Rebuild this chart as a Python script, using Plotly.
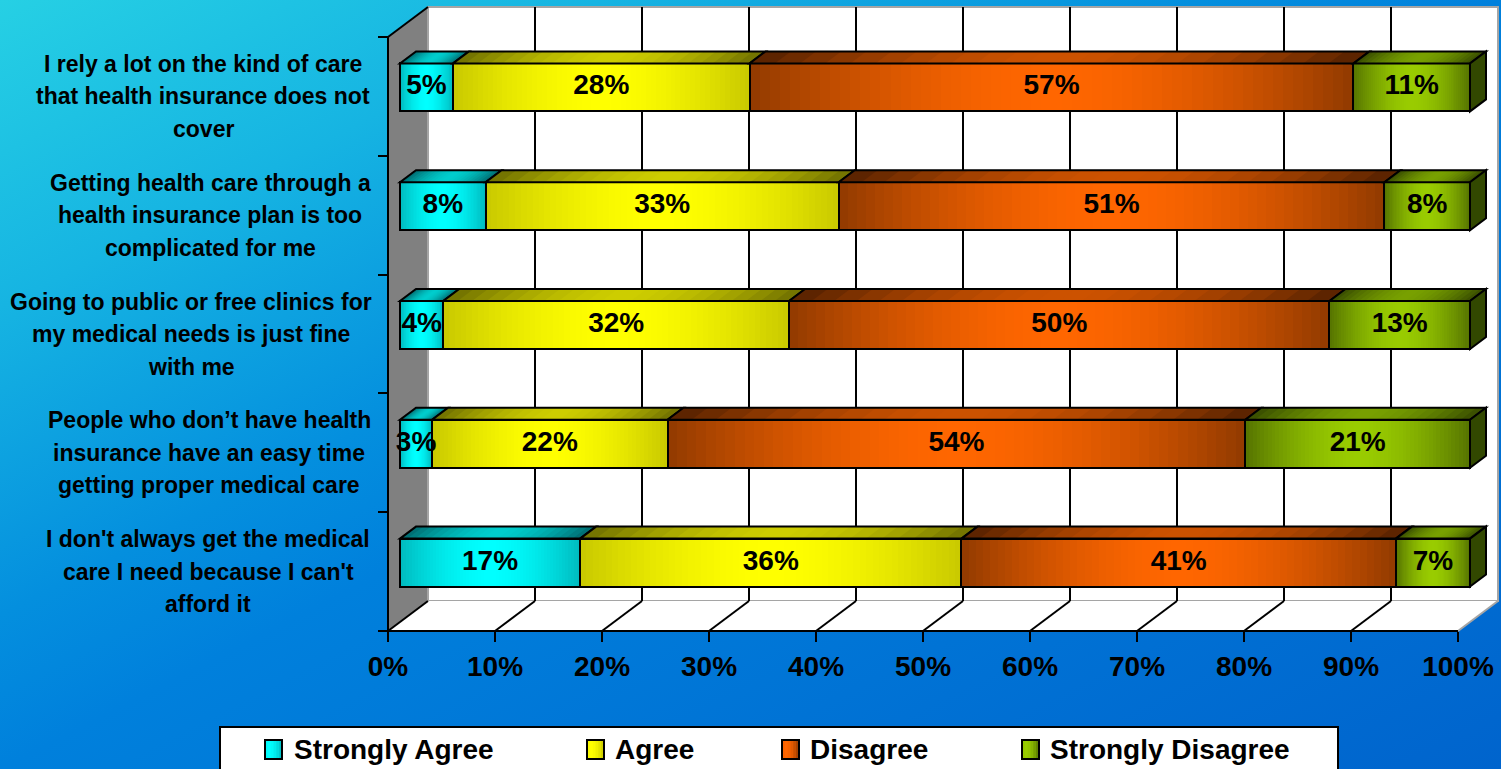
import base64
import plotly.graph_objects as go

# ---------------- data ----------------
# categories listed bottom -> top, lines split with "\n"
categories = [
    "I don't always get the medical\ncare I need because I can't\nafford it",
    "People who don’t have health\ninsurance have an easy time\ngetting proper medical care",
    "Going to public or free clinics for\nmy medical needs is just fine\nwith me",
    "Getting health care through a\nhealth insurance plan is too\ncomplicated for me",
    "I rely a lot on the kind of care\nthat health insurance does not\ncover",
]
series_names = ["Strongly Agree", "Agree", "Disagree", "Strongly Disagree"]
strongly_agree = [17, 3, 4, 8, 5]
agree = [36, 22, 32, 33, 28]
disagree = [41, 54, 50, 51, 57]
strongly_disagree = [7, 21, 13, 8, 11]
x_tick_values = [0, 10, 20, 30, 40, 50, 60, 70, 80, 90, 100]
x_tick_labels = ["0%", "10%", "20%", "30%", "40%", "50%", "60%", "70%", "80%", "90%", "100%"]

series_values = [strongly_agree, agree, disagree, strongly_disagree]

# ---------------- styling ----------------
FONT = "Liberation Sans, Arial, sans-serif"
# (edge colour, centre colour) for front faces and top faces
FRONT = [((0, 185, 190), (0, 255, 255)),
         ((200, 200, 0), (255, 255, 0)),
         ((145, 58, 0), (255, 102, 0)),
         ((85, 115, 0), (153, 204, 0))]
TOP = [((0, 105, 110), (0, 205, 205)),
       ((110, 110, 0), (205, 205, 0)),
       ((85, 33, 0), (205, 82, 0)),
       ((55, 75, 0), (120, 160, 0))]
SIDE = "rgb(50,72,0)"
LABEL_CENTER_PX = [208, 209, 191, 210, 203]   # horizontal centre of each category label block
LINE_STEP_PX = 32.5

# ---------------- geometry (pixels) ----------------
W_FIG, H_FIG = 1501, 769
PX_PER_PCT = 10.70
PX_PER_CAT = 118.8
AXIS_X0_PX, AXIS_Y_PX = 388, 631
WALL_DX, WALL_DY = 40, 30          # depth of the 3D box
FACE_DX, FACE_DY = 12, 9           # bar front face offset from the front plane
BAR_DX, BAR_DY = 16, 12            # bar depth
BAR_PX = 48                        # bar thickness
PAD = 3
N_FRONT, N_TOP = 60, 24


def ux(p):
    return p / PX_PER_PCT


def uy(p):
    return p / PX_PER_CAT


x_lo = -ux(PAD)
x_hi = 100 + ux(WALL_DX) + ux(2)
y_lo = -0.5 - uy(PAD)
y_hi = 4.5 + uy(WALL_DY) + uy(PAD)
plot_w = (x_hi - x_lo) * PX_PER_PCT
plot_h = (y_hi - y_lo) * PX_PER_CAT
m_l = AXIS_X0_PX - PAD
m_b = H_FIG - (AXIS_Y_PX + PAD)
m_t = H_FIG - m_b - plot_h
m_r = W_FIG - m_l - plot_w

DX, DY = ux(WALL_DX), uy(WALL_DY)
FX, FY = ux(FACE_DX), uy(FACE_DY)
BDX, BDY = ux(BAR_DX), uy(BAR_DY)
BH = uy(BAR_PX)


def px_paper_x(p):
    return (p - m_l) / plot_w


def px_paper_y(q):
    return (H_FIG - m_b - q) / plot_h


def grad(pair, t):
    edge, centre = pair
    w = 1 - abs(2 * t - 1) ** 1.7
    return "rgb(%d,%d,%d)" % tuple(round(e + (c - e) * w) for e, c in zip(edge, centre))


# ---------------- 100% stacking ----------------
n_cat = len(categories)
totals = [sum(v[i] for v in series_values) for i in range(n_cat)]
shares = [[v[i] * 100.0 / totals[i] for i in range(n_cat)] for v in series_values]
starts = []
acc = [0.0] * n_cat
for sh in shares:
    starts.append(acc[:])
    acc = [a + s for a, s in zip(acc, sh)]

fig = go.Figure()
shapes = []

# ---------------- 3D box: walls, floor, grid ----------------
wall_line = dict(color="rgb(165,165,165)", width=2)
shapes.append(dict(type="rect", xref="x", yref="y", x0=DX, x1=100 + DX, y0=-0.5 + DY, y1=4.5 + DY,
                   fillcolor="white", line=wall_line, layer="below"))
shapes.append(dict(type="path", xref="x", yref="y",
                   path=f"M0,-0.5 L100,-0.5 L{100 + DX},{-0.5 + DY} L{DX},{-0.5 + DY} Z",
                   fillcolor="white", line=dict(width=0), layer="below"))
shapes.append(dict(type="path", xref="x", yref="y",
                   path=f"M0,-0.5 L0,4.5 L{DX},{4.5 + DY} L{DX},{-0.5 + DY} Z",
                   fillcolor="rgb(128,128,128)", line=dict(width=0), layer="below"))
shapes.append(dict(type="line", xref="x", yref="y", x0=DX, x1=DX, y0=-0.5 + DY, y1=4.5 + DY,
                   line=wall_line, layer="below"))
shapes.append(dict(type="line", xref="x", yref="y", x0=0, x1=DX, y0=4.5, y1=4.5 + DY,
                   line=dict(color="black", width=2), layer="below"))
for v in x_tick_values:
    if 0 < v < 100:
        shapes.append(dict(type="line", xref="x", yref="y", x0=v + DX, x1=v + DX,
                           y0=-0.5 + DY, y1=4.5 + DY, line=dict(color="black", width=2), layer="below"))
    shapes.append(dict(type="line", xref="x", yref="y", x0=v, x1=v + DX, y0=-0.5, y1=-0.5 + DY,
                       line=dict(color="rgb(165,165,165)" if v == 100 else "black", width=2),
                       layer="below"))

# ---------------- bars: front faces (gradient slices + outline) ----------------
for s, name in enumerate(series_names):
    ys, bases, lens, cols = [], [], [], []
    for i in range(n_cat):
        a = starts[s][i]
        b = a + shares[s][i]
        for k in range(N_FRONT):
            x0 = a + (b - a) * k / N_FRONT
            ys.append(i + FY)
            bases.append(x0 + FX)
            lens.append(b - x0)
            cols.append(grad(FRONT[s], (k + 0.5) / N_FRONT))
    fig.add_trace(go.Bar(orientation="h", y=ys, x=lens, base=bases, width=BH,
                         marker=dict(color=cols, line=dict(width=0)),
                         showlegend=False, hoverinfo="skip"))

for s, name in enumerate(series_names):
    fig.add_trace(go.Bar(orientation="h", name=name,
                         y=[i + FY for i in range(n_cat)], x=shares[s],
                         base=[st + FX for st in starts[s]], width=BH,
                         marker=dict(color="rgba(0,0,0,0)", line=dict(color="black", width=2)),
                         showlegend=False,
                         customdata=series_values[s],
                         hovertemplate=name + ": %{customdata}%<extra></extra>"))

# ---------------- bars: top faces and end face ----------------
for s in range(len(series_names)):
    for i in range(n_cat):
        a = starts[s][i]
        b = a + shares[s][i]
        yt = i + FY + BH / 2
        yb = i + FY - BH / 2
        for k in range(N_TOP):
            x0 = a + (b - a) * k / N_TOP
            shapes.append(dict(type="path", xref="x", yref="y", layer="above",
                               path=f"M{x0 + FX},{yt} L{b + FX},{yt} L{b + FX + BDX},{yt + BDY} "
                                    f"L{x0 + FX + BDX},{yt + BDY} Z",
                               fillcolor=grad(TOP[s], (k + 0.5) / N_TOP), line=dict(width=0)))
        shapes.append(dict(type="path", xref="x", yref="y", layer="above",
                           path=f"M{a + FX},{yt} L{b + FX},{yt} L{b + FX + BDX},{yt + BDY} "
                                f"L{a + FX + BDX},{yt + BDY} Z",
                           fillcolor="rgba(0,0,0,0)", line=dict(color="black", width=2)))
        if s == len(series_names) - 1:
            shapes.append(dict(type="path", xref="x", yref="y", layer="above",
                               path=f"M{b + FX},{yb} L{b + FX},{yt} L{b + FX + BDX},{yt + BDY} "
                                    f"L{b + FX + BDX},{yb + BDY} Z",
                               fillcolor=SIDE, line=dict(color="black", width=2)))

# ---------------- value labels ----------------
for s in range(len(series_names)):
    fig.add_trace(go.Scatter(
        x=[st + sh / 2 + FX for st, sh in zip(starts[s], shares[s])],
        y=[i + FY for i in range(n_cat)],
        text=[f"{v}%" for v in series_values[s]],
        mode="text", textposition="middle center",
        textfont=dict(family=FONT, size=28, color="black", weight="bold"),
        showlegend=False, hoverinfo="skip", cliponaxis=False))

# ---------------- front axis lines ----------------
shapes.append(dict(type="line", xref="x", yref="y", x0=0, x1=100, y0=-0.5, y1=-0.5,
                   line=dict(color="black", width=2), layer="above"))
shapes.append(dict(type="line", xref="x", yref="y", x0=0, x1=0, y0=-0.5, y1=4.5,
                   line=dict(color="black", width=2), layer="above"))

# ---------------- category labels ----------------
annotations = []
for i, label in enumerate(categories):
    lines = label.split("\n")
    n = len(lines)
    for j, line in enumerate(lines):
        annotations.append(dict(
            xref="x", yref="y", x=0, y=i, xshift=LABEL_CENTER_PX[i] - AXIS_X0_PX,
            yshift=((n - 1) / 2 - j) * LINE_STEP_PX,
            text=line, showarrow=False, xanchor="center", yanchor="middle",
            font=dict(family=FONT, size=23, color="black", weight="bold")))

# ---------------- legend box ----------------
shapes.append(dict(type="rect", xref="paper", yref="paper",
                   x0=px_paper_x(220), x1=px_paper_x(1338), y0=px_paper_y(790), y1=px_paper_y(727),
                   fillcolor="white", line=dict(color="black", width=2), layer="above"))
legend_swatch_px = [265, 587, 782, 1022]
legend_text_px = [294, 615, 810, 1050]
for s, name in enumerate(series_names):
    sx = legend_swatch_px[s]
    for k in range(6):
        shapes.append(dict(type="rect", xref="paper", yref="paper",
                           x0=px_paper_x(sx + 17 * k / 6), x1=px_paper_x(sx + 17),
                           y0=px_paper_y(759), y1=px_paper_y(740),
                           fillcolor=grad(FRONT[s], 0.35 + 0.65 * (k + 0.5) / 6),
                           line=dict(width=0), layer="above"))
    shapes.append(dict(type="rect", xref="paper", yref="paper",
                       x0=px_paper_x(sx), x1=px_paper_x(sx + 17),
                       y0=px_paper_y(759), y1=px_paper_y(740),
                       fillcolor="rgba(0,0,0,0)", line=dict(color="black", width=2), layer="above"))
    annotations.append(dict(xref="paper", yref="paper", x=px_paper_x(legend_text_px[s] - 2),
                            y=px_paper_y(749), text=name, showarrow=False,
                            xanchor="left", yanchor="middle",
                            font=dict(family=FONT, size=28, color="black", weight="bold")))

# ---------------- background ----------------
bg_svg = (
    f'<svg xmlns="http://www.w3.org/2000/svg" width="{W_FIG}" height="{H_FIG}" '
    f'viewBox="0 0 {W_FIG} {H_FIG}" preserveAspectRatio="none">'
    '<defs><linearGradient id="g" x1="0" y1="0" x2="1" y2="1">'
    '<stop offset="0" stop-color="rgb(38,208,228)"/>'
    '<stop offset="0.2" stop-color="rgb(22,180,226)"/>'
    '<stop offset="0.4" stop-color="rgb(4,143,222)"/>'
    '<stop offset="0.5" stop-color="rgb(0,128,220)"/>'
    '<stop offset="1" stop-color="rgb(0,100,205)"/>'
    '</linearGradient></defs>'
    f'<rect width="{W_FIG}" height="{H_FIG}" fill="url(#g)"/></svg>'
)
bg_src = "data:image/svg+xml;base64," + base64.b64encode(bg_svg.encode()).decode()

fig.update_layout(
    width=W_FIG, height=H_FIG,
    margin=dict(l=m_l, r=m_r, t=m_t, b=m_b, autoexpand=False),
    paper_bgcolor="rgb(0,128,220)", plot_bgcolor="rgba(0,0,0,0)",
    barmode="overlay", bargap=0,
    showlegend=False,
    shapes=shapes, annotations=annotations,
    images=[dict(source=bg_src, xref="paper", yref="paper",
                 x=px_paper_x(0), y=px_paper_y(0), sizex=W_FIG / plot_w, sizey=H_FIG / plot_h,
                 xanchor="left", yanchor="top", sizing="stretch", layer="below")],
    xaxis=dict(range=[x_lo, x_hi], tickvals=x_tick_values, ticktext=x_tick_labels,
               ticks="outside", ticklen=10, tickwidth=2, tickcolor="black",
               showgrid=False, zeroline=False, showline=False,
               anchor="free", position=px_paper_y(AXIS_Y_PX),
               tickfont=dict(family=FONT, size=28, color="black", weight="bold")),
    yaxis=dict(range=[y_lo, y_hi], tickvals=[-0.5, 0.5, 1.5, 2.5, 3.5, 4.5],
               showticklabels=False, ticks="outside", ticklen=10, tickwidth=2, tickcolor="black",
               showgrid=False, zeroline=False, showline=False,
               anchor="free", position=px_paper_x(AXIS_X0_PX)),
)

fig.write_html("out.html")
